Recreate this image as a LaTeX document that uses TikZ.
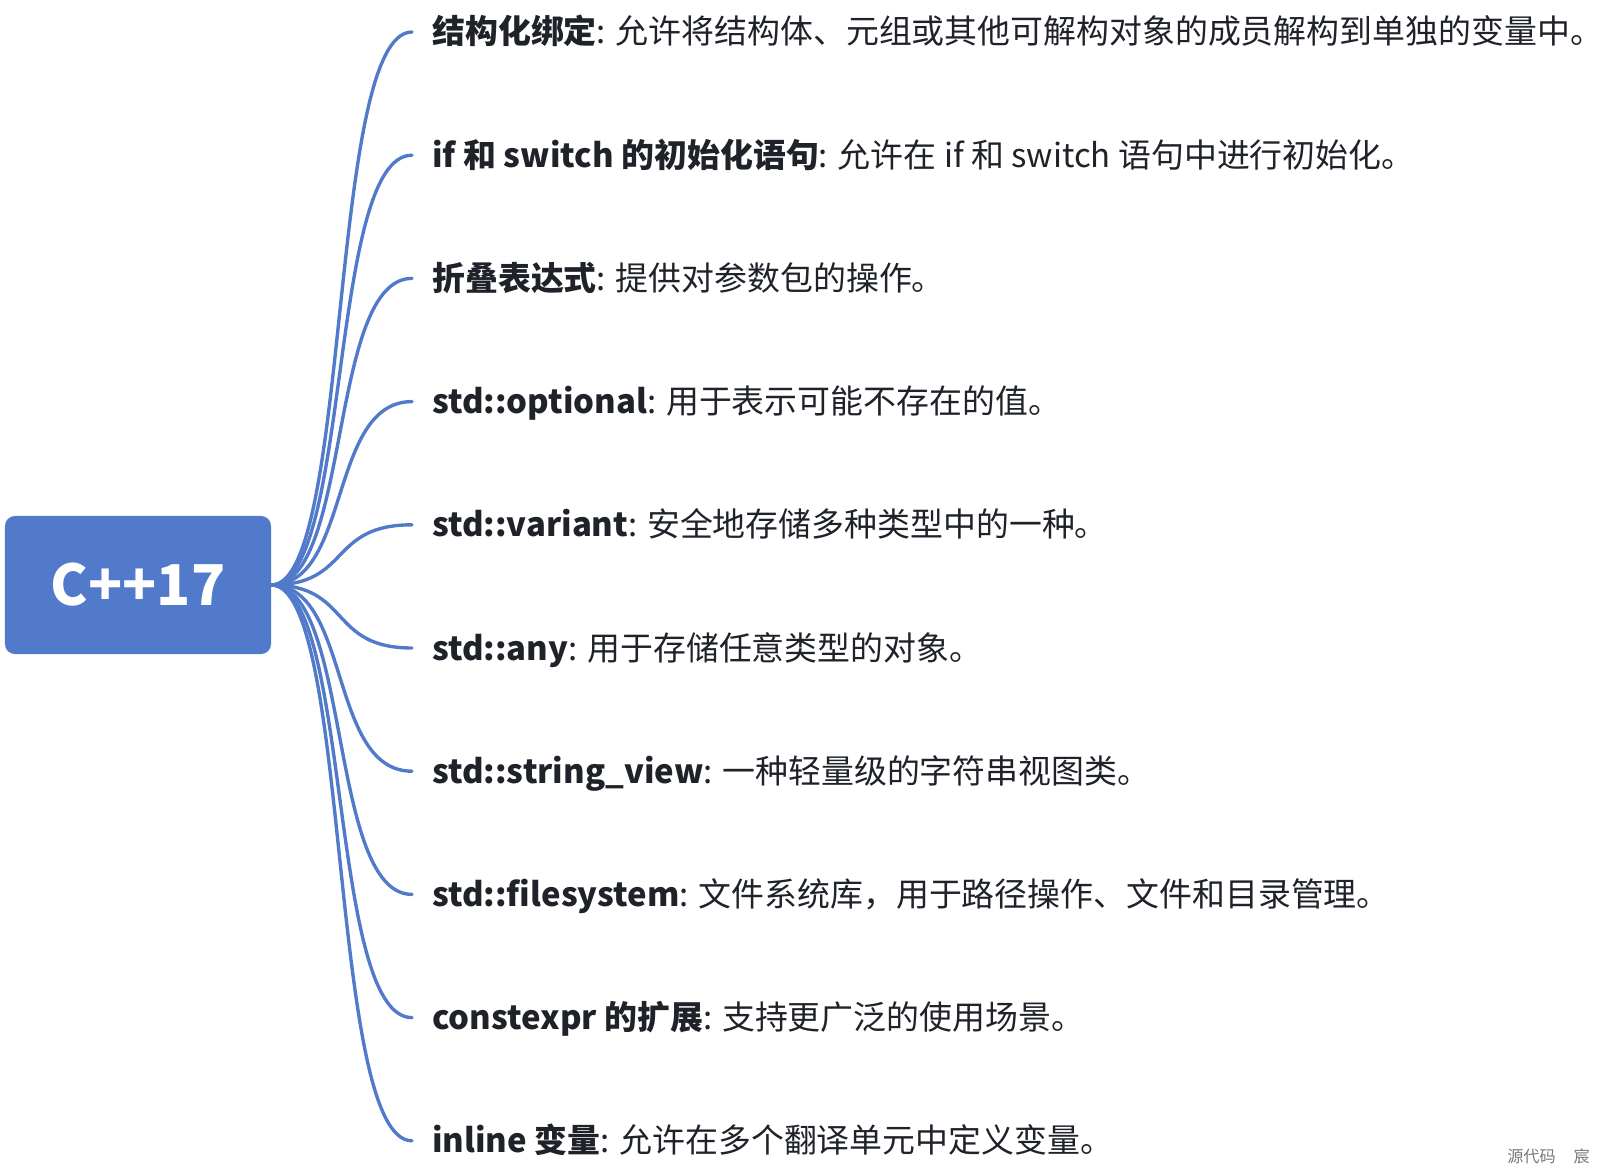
\documentclass[tikz,border=0pt]{standalone}
\usepackage{fontspec}
\setmainfont{Noto Sans CJK SC}
\definecolor{mapblue}{RGB}{81,122,202}
\definecolor{inkdark}{RGB}{31,35,41}
\definecolor{markgray}{RGB}{120,120,120}
\tikzset{
  rootbox/.style={rectangle, rounded corners=0.25cm, fill=mapblue, text=white,
    minimum width=6.65cm, minimum height=3.45cm, inner sep=0pt,
    font=\fontsize{40pt}{48pt}\selectfont\bfseries},
  leaftext/.style={anchor=base west, inner sep=0pt, text=inkdark,
    font=\fontsize{23.4pt}{28pt}\selectfont},
  branch/.style={draw=mapblue, line width=2.4pt, line cap=round},
}
\begin{document}
\begin{tikzpicture}[x=0.025cm, y=-0.025cm]
\useasboundingbox (0,0) rectangle (1601,1175);
%----------------------------
% Root
%----------------------------
\node[rootbox] (root) at (138,585) {C++17};

%----------------------------
% Leaves and branches
%----------------------------
\foreach \lab/\desc [count=\i] in {
	{结构化绑定}/{允许将结构体、元组或其他可解构对象的成员解构到单独的变量中。},
	{if 和 switch 的初始化语句}/{允许在 if 和 switch 语句中进行初始化。},
	{折叠表达式}/{提供对参数包的操作。},
	{std::optional}/{用于表示可能不存在的值。},
	{std::variant}/{安全地存储多种类型中的一种。},
	{std::any}/{用于存储任意类型的对象。},
	{std::string\_view}/{一种轻量级的字符串视图类。},
	{std::filesystem}/{文件系统库，用于路径操作、文件和目录管理。},
	{constexpr 的扩展}/{支持更广泛的使用场景。},
	{inline 变量}/{允许在多个翻译单元中定义变量。}}
{
	\pgfmathsetmacro\yy{32+123.2*(\i-1)}
	% end of the branch, then the text
	\coordinate (e\i) at (412,\yy);
	\node[leaftext] (t\i) at (432,\yy+12) {\textbf{\lab}: \desc};
	\draw[branch] (root.east) .. controls +(80,0) and +(-84,0) .. (e\i);
}

% Watermark
\node[anchor=base east, inner sep=0pt, text=markgray,
  font=\fontsize{11.5pt}{13pt}\selectfont] (mark) at (1590,1162) {源代码\hspace{1.1em}宸};
\end{tikzpicture}
\end{document}
